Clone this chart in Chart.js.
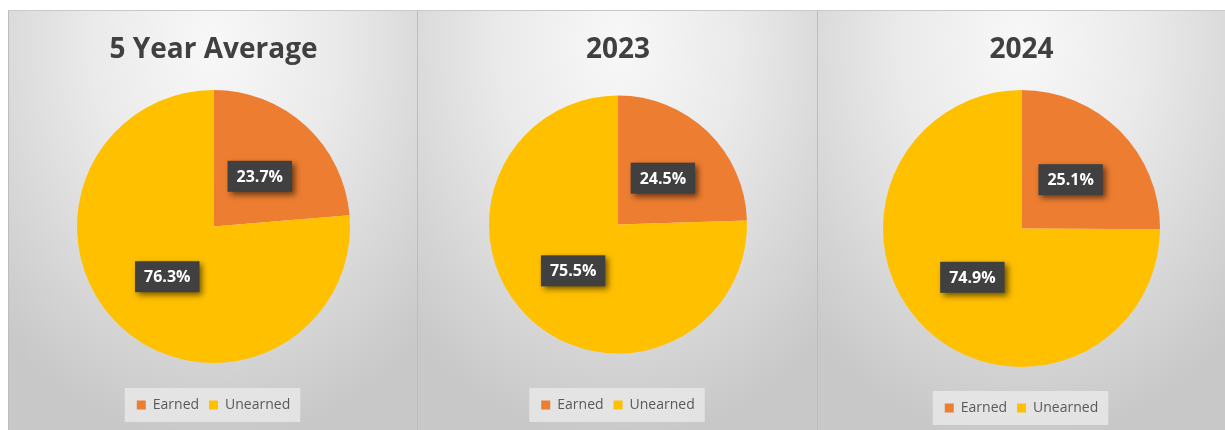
<!DOCTYPE html>
<html>
<head>
<meta charset="utf-8">
<script src="https://cdn.jsdelivr.net/npm/chart.js@4.4.1/dist/chart.umd.min.js"></script>
<style>
  html, body { margin: 0; padding: 0; background: #fff; }
  body { width: 1225px; height: 430px; position: relative; overflow: hidden; }
  .topline { position: absolute; left: 8px; top: 10px; width: 1217px; height: 1px; background: #c9c9c9; }
  .panel {
    position: absolute; top: 11px; height: 419px;
    background: radial-gradient(ellipse 75% 95% at 50% 8%, #f8f8f8 0%, #eaeaea 40%, #d6d6d6 75%, #c8c8c8 100%);
    border-left: 1px solid #bdbdbd;
    box-sizing: border-box;
  }
  .panel canvas { position: absolute; left: 0; top: 0; }
</style>
</head>
<body>
<div class="topline"></div>
<div class="panel" id="p0" style="left:8px;width:410px;"><canvas id="c0" width="409" height="419"></canvas></div>
<div class="panel" id="p1" style="left:417px;width:401px;"><canvas id="c1" width="400" height="419"></canvas></div>
<div class="panel" id="p2" style="left:817px;width:408px;"><canvas id="c2" width="407" height="419"></canvas></div>
<script>
// pie data per period
const chartTitles = ['5 Year Average', '2023', '2024'];
const categories = ['Earned', 'Unearned'];
const earned = [23.7, 24.5, 25.1];
const unearned = [76.3, 75.5, 74.9];
const sliceColors = ['#ED7D31', '#FFC000'];

const fontFamily = '"Open Sans", Lato, sans-serif';

// per-panel spacing so each pie sits where it should
const panelLayout = [
  { titleBottom: 1, side: 68, bottom: 8 },
  { titleBottom: -3, side: 71, bottom: 8 },
  { titleBottom: 2, side: 65, bottom: 5 }
];

// dark value boxes on each slice
const valueBoxes = {
  id: 'valueBoxes',
  afterDatasetsDraw(chart) {
    const ctx = chart.ctx;
    const meta = chart.getDatasetMeta(0);
    const values = chart.data.datasets[0].data;
    ctx.save();
    ctx.font = 'bold 16px ' + fontFamily;
    ctx.textAlign = 'center';
    ctx.textBaseline = 'middle';
    meta.data.forEach((arc, i) => {
      const pos = arc.tooltipPosition();
      const text = values[i].toFixed(1) + '%';
      const w = ctx.measureText(text).width + 18;
      const h = 31;
      ctx.save();
      ctx.shadowColor = 'rgba(0,0,0,0.55)';
      ctx.shadowBlur = 6;
      ctx.shadowOffsetX = 3;
      ctx.shadowOffsetY = 3;
      ctx.fillStyle = '#404040';
      ctx.fillRect(pos.x - w / 2, pos.y - h / 2, w, h);
      ctx.restore();
      ctx.fillStyle = '#ffffff';
      ctx.fillText(text, pos.x, pos.y + 1);
    });
    ctx.restore();
  }
};

// light backing box behind the legend
const legendBox = {
  id: 'legendBox',
  beforeDraw(chart) {
    const boxes = chart.legend && chart.legend.legendHitBoxes;
    if (!boxes || !boxes.length) return;
    const first = boxes[0], last = boxes[boxes.length - 1];
    const x0 = first.left - 12, x1 = last.left + last.width + 10;
    const y0 = first.top - 10, y1 = first.top + first.height + 10;
    const ctx = chart.ctx;
    ctx.save();
    ctx.fillStyle = 'rgba(232,232,232,0.85)';
    ctx.fillRect(x0, y0, x1 - x0, y1 - y0);
    ctx.restore();
  }
};

chartTitles.forEach((title, k) => {
  const lay = panelLayout[k];
  new Chart(document.getElementById('c' + k), {
    type: 'pie',
    data: {
      labels: categories,
      datasets: [{
        data: [earned[k], unearned[k]],
        backgroundColor: sliceColors,
        borderWidth: 0
      }]
    },
    options: {
      responsive: false,
      animation: false,
      events: [],
      layout: { padding: { left: lay.side, right: lay.side, top: 0, bottom: lay.bottom } },
      plugins: {
        title: {
          display: true,
          text: title,
          color: '#404040',
          font: { family: fontFamily, size: 28, weight: 'bold', lineHeight: 1.0 },
          padding: { top: 25, bottom: lay.titleBottom }
        },
        legend: {
          display: true,
          position: 'bottom',
          labels: {
            boxWidth: 9,
            boxHeight: 9,
            padding: 10,
            color: '#595959',
            font: { family: fontFamily, size: 14 }
          }
        },
        tooltip: { enabled: false }
      }
    },
    plugins: [valueBoxes, legendBox]
  });
});
</script>
</body>
</html>
